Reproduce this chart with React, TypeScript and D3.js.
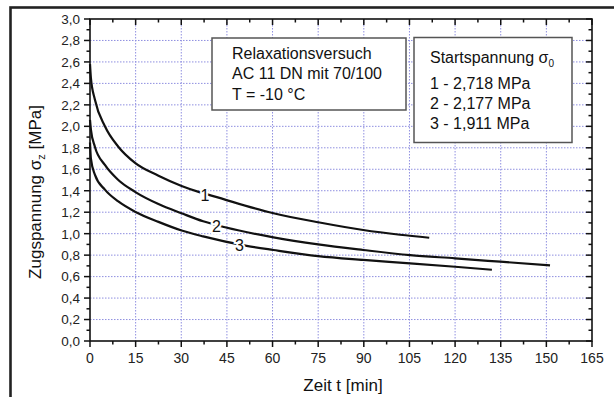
import React from "react";
import * as d3 from "d3";

const curve1T = [0, 0.3, 1.6, 4.9, 9.3, 14.8, 22.5, 30.1, 36.2, 40.5, 60.3, 75, 89.8, 101.9, 111.5];
const curve1V = [2.58, 2.45, 2.25, 2.0, 1.81, 1.66, 1.54, 1.445, 1.385, 1.35, 1.19, 1.106, 1.034, 0.99, 0.962];
const curve2T = [0, 0.3, 1.6, 4.9, 9.3, 14.8, 22.5, 30.1, 37.2, 44.4, 60.3, 75, 89.8, 105.2, 120, 134.8, 151.2];
const curve2V = [2.06, 1.97, 1.81, 1.64, 1.5, 1.39, 1.276, 1.19, 1.115, 1.06, 0.966, 0.9, 0.848, 0.8, 0.77, 0.739, 0.705];
const curve3T = [0, 0.3, 1.6, 4.9, 9.3, 14.8, 22.5, 30.1, 37.2, 51.5, 60.3, 75, 89.8, 105.2, 120, 132.1];
const curve3V = [1.85, 1.7, 1.55, 1.41, 1.3, 1.205, 1.11, 1.03, 0.975, 0.887, 0.848, 0.79, 0.755, 0.724, 0.692, 0.664];

const curveLabels = ["1", "2", "3"];
const labelT = [37.8, 41.6, 49.1];
const labelV = [1.36, 1.07, 0.894];

const xTicks = [0, 15, 30, 45, 60, 75, 90, 105, 120, 135, 150, 165];
const yTicks = [0, 0.2, 0.4, 0.6, 0.8, 1.0, 1.2, 1.4, 1.6, 1.8, 2.0, 2.2, 2.4, 2.6, 2.8, 3.0];

const box1Lines = ["Relaxationsversuch", "AC 11 DN mit 70/100", "T = -10 °C"];
const box2Lines = ["1 - 2,718 MPa", "2 - 2,177 MPa", "3 - 1,911 MPa"];

const W = 614;
const H = 397;
const L = 90, R = 592, T = 19, B = 341;
const FONT = "'Liberation Sans', Arial, sans-serif";

export default function App() {
  const x = d3.scaleLinear().domain([0, 165]).range([L, R]);
  const y = d3.scaleLinear().domain([0, 3]).range([B, T]);
  const series = [
    curve1T.map((t, i) => [t, curve1V[i]]),
    curve2T.map((t, i) => [t, curve2V[i]]),
    curve3T.map((t, i) => [t, curve3V[i]]),
  ];
  const line = d3
    .line<number[]>()
    .x((d) => x(d[0]))
    .y((d) => y(d[1]))
    .curve(d3.curveMonotoneX);

  const xMinor = d3.range(0, 165.01, 7.5);
  const yMinor = d3.range(0, 30.01, 1).map((v) => v / 10);
  const fmtY = (v: number) => v.toFixed(1).replace(".", ",");
  const gridColor = "#8f8fe0";

  return (
    <svg width={W} height={H} style={{ position: "absolute", left: 0, top: 0, background: "#fff" }} fontFamily={FONT}>
      <rect x={0} y={0} width={W} height={H} fill="#fff" />
      {/* outer frame */}
      <rect x={10.5} y={7.5} width={W + 20} height={H + 20} fill="none" stroke="#222" strokeWidth={2.6} />

      {/* grid */}
      {xTicks.slice(1, -1).map((t) => (
        <line key={"gx" + t} x1={x(t)} x2={x(t)} y1={T} y2={B} stroke={gridColor} strokeWidth={1} strokeDasharray="1.5,1.5" />
      ))}
      {yTicks.slice(1, -1).map((v) => (
        <line key={"gy" + v} x1={L} x2={R} y1={y(v)} y2={y(v)} stroke={gridColor} strokeWidth={1} strokeDasharray="1.5,1.5" />
      ))}

      {/* text boxes */}
      <rect x={212} y={38} width={194} height={72} fill="#fff" stroke="#555" strokeWidth={1.5} />
      {box1Lines.map((s, i) => (
        <text key={"b1" + i} x={232} y={58.5 + i * 20.5} fontSize={16} fill="#111">{s}</text>
      ))}
      <rect x={414} y={37.5} width={158} height={105} fill="#fff" stroke="#555" strokeWidth={1.5} />
      <text x={430} y={63} fontSize={16} fill="#111">
        Startspannung σ<tspan fontSize={10} dy={4}>0</tspan>
      </text>
      {box2Lines.map((s, i) => (
        <text key={"b2" + i} x={430} y={88.5 + i * 20} fontSize={16} fill="#111">{s}</text>
      ))}

      {/* curves */}
      {series.map((s, i) => (
        <path key={"c" + i} d={line(s) || ""} fill="none" stroke="#111" strokeWidth={2.2} />
      ))}
      {curveLabels.map((s, i) => (
        <text
          key={"l" + i}
          x={x(labelT[i])}
          y={y(labelV[i])}
          dy="0.36em"
          textAnchor="middle"
          fontSize={16}
          fill="#111"
          stroke="#fff"
          strokeWidth={4}
          paintOrder="stroke"
        >
          {s}
        </text>
      ))}

      {/* axes frame */}
      <rect x={L} y={T} width={R - L} height={B - T} fill="none" stroke="#111" strokeWidth={1.6} />

      {/* x ticks bottom (out) and top (in) */}
      {xMinor.map((t, i) => {
        const major = i % 2 === 0;
        const len = major ? 6 : 3.5;
        return (
          <g key={"xt" + i}>
            <line x1={x(t)} x2={x(t)} y1={B} y2={B + len} stroke="#111" strokeWidth={1.5} />
            <line x1={x(t)} x2={x(t)} y1={T} y2={T + len} stroke="#111" strokeWidth={1.5} />
          </g>
        );
      })}
      {/* y ticks left (out) and right (in) */}
      {yMinor.map((v, i) => {
        const major = i % 2 === 0;
        const len = major ? 6 : 3.5;
        return (
          <g key={"yt" + i}>
            <line x1={L - len} x2={L} y1={y(v)} y2={y(v)} stroke="#111" strokeWidth={1.5} />
            <line x1={R - len} x2={R} y1={y(v)} y2={y(v)} stroke="#111" strokeWidth={1.5} />
          </g>
        );
      })}

      {/* tick labels */}
      {xTicks.map((t) => (
        <text key={"xl" + t} x={x(t)} y={363} textAnchor="middle" fontSize={14} fill="#222">{t}</text>
      ))}
      {yTicks.map((v) => (
        <text key={"yl" + v} x={80} y={y(v)} dy="0.36em" textAnchor="end" fontSize={13.5} fill="#222">{fmtY(v)}</text>
      ))}

      {/* axis titles */}
      <text x={343} y={391} textAnchor="middle" fontSize={17} fill="#111">Zeit t [min]</text>
      <text transform="translate(41,192) rotate(-90)" textAnchor="middle" fontSize={17} fill="#111">
        Zugspannung σ<tspan fontSize={11} dy={4}>z</tspan><tspan dy={-4}> [MPa]</tspan>
      </text>
    </svg>
  );
}
